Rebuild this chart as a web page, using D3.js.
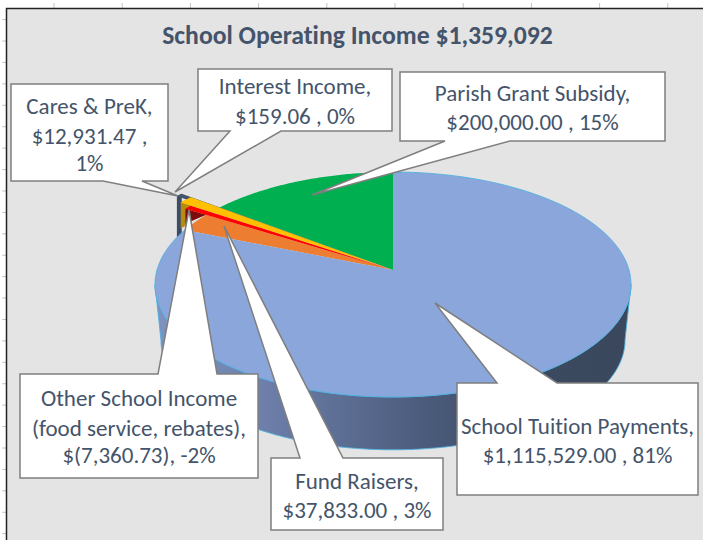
<!DOCTYPE html>
<html><head><meta charset="utf-8">
<script src="https://cdn.jsdelivr.net/npm/d3@7/dist/d3.min.js"></script>
<style>html,body{margin:0;padding:0;background:#fff}svg{display:block}text{font-variant-ligatures:none}</style>
</head><body><svg id="c" width="703" height="540"></svg>
<script>
const chartTitle = "School Operating Income $1,359,092";
const categories = ["School Tuition Payments","Fund Raisers","Other School Income (food service, rebates)","Cares & PreK","Interest Income","Parish Grant Subsidy"];
const values = [1115529.00, 37833.00, -7360.73, 12931.47, 159.06, 200000.00];
const moneyLabels = ["$1,115,529.00","$37,833.00","$(7,360.73)","$12,931.47","$159.06","$200,000.00"];
const percentLabels = ["81%","3%","-2%","1%","0%","15%"];
const sliceColors = ["#8ba6da","#ed7d31","#ff0000","#ffc000","#44546a","#00b050"];

const calloutLines = [
  ["School Tuition Payments,","$1,115,529.00 , 81%"],
  ["Fund Raisers,","$37,833.00 , 3%"],
  ["Other School Income","(food service, rebates),","$(7,360.73), -2%"],
  ["Cares & PreK,","$12,931.47 ,","1%"],
  ["Interest Income,","$159.06 , 0%"],
  ["Parish Grant Subsidy,","$200,000.00 , 15%"]
];
// annotation layout: box [x0,y0,x1,y1], tip, pointer base on bottom or top edge
const calloutBoxes = [
  {b:[457,383,698,495],tip:[435,303],base:[497,557],edge:"top",ys:[426,455]},
  {b:[271,458,443,530],tip:[224,226],base:[300,343],edge:"top",ys:[481,510]},
  {b:[20,374,258,478],tip:[189,210],base:[158,217],edge:"top",ys:[398,428,455]},
  {b:[11,84,168,181],tip:[178,196],base:[103,142],edge:"bottom",ys:[106,136,163]},
  {b:[198,69,392,131],tip:[175,192],base:[230,281],edge:"bottom",ys:[86,116]},
  {b:[400,72,665,141],tip:[312,195],base:[445,510],edge:"bottom",ys:[93,122]}
];

const svg = d3.select("#c");
const ink = "#44546a", font = "Carlito, Lato, 'Open Sans', sans-serif";

// sheet background and ruler ticks
svg.append("rect").attr("x",6).attr("y",8).attr("width",697).attr("height",532).attr("fill","#e4e4e4");
d3.range(54,703,68.2).forEach(x=>svg.append("line").attr("x1",x).attr("x2",x).attr("y1",3).attr("y2",8).attr("stroke","#c4c4c4"));
d3.range(19.6,540,21.42).forEach(y=>svg.append("line").attr("x1",2).attr("x2",6).attr("y1",y).attr("y2",y).attr("stroke","#c4c4c4"));
svg.append("path").attr("d","M6.5 540V8.5H703").attr("fill","none").attr("stroke","#222").attr("stroke-width",1.5);

// pie angles through d3.pie, in source order, clockwise from top
const pie = d3.pie().sort(null).value(d=>Math.abs(d));
const arcs = pie(values);

// perspective view of the tilted disc
const cx = 393, cy = 270, aX = 236, bY = 110.6, persp = 0.129, depth = 56, bottomShrink = 0.975;
function project(theta, r, drop=0){
  const u = r*Math.sin(theta), v = r*Math.cos(theta), w = 1+persp*v;
  return [cx + aX*u/w, cy - bY*v/w + drop];
}
function projectBottom(theta){
  const [x,y] = project(theta,1);
  return [cx+(x-cx)*bottomShrink, cy+(y-cy)*bottomShrink+depth];
}
function arcPoints(a0,a1,r,drop=0){
  const n = Math.max(2,Math.ceil((a1-a0)/0.01));
  return d3.range(n+1).map(i=>project(a0+(a1-a0)*i/n,r,drop));
}
const line = d3.line();
const deg = Math.PI/180;
const grad = svg.append("defs").append("linearGradient").attr("id","wall").attr("gradientUnits","userSpaceOnUse")
  .attr("x1",155).attr("x2",631).attr("y1",0).attr("y2",0);
[[0,"#7f92c0"],[0.22,"#6e80ab"],[0.58,"#4a5a7a"],[0.77,"#3c4b62"],[1,"#3a475c"]]
  .forEach(s=>grad.append("stop").attr("offset",s[0]).attr("stop-color",s[1]));

// blue outer wall: front rim between the two silhouette tangents of the disc
const a0 = 97.4*deg, a1 = 262.6*deg;
const nW = 200;
const frontTop = d3.range(nW+1).map(i=>project(a0+(a1-a0)*i/nW,1));
const frontBottom = d3.range(nW+1).map(i=>projectBottom(a0+(a1-a0)*i/nW)).reverse();
svg.append("path").attr("d",line(frontTop.concat(frontBottom))+"Z")
  .attr("fill","url(#wall)").attr("stroke","#4fb0e0").attr("stroke-width",0.9);

function topFace(a0,a1,r){ return line([[cx,cy]].concat(arcPoints(a0,a1,r)))+"Z"; }
const [aBlue,aOrange,aRed,aGold,aDark,aGreen] = arcs;

// parish slice
svg.append("path").attr("d",topFace(aGreen.startAngle,aGreen.endAngle,1)).attr("fill",sliceColors[5]);

// interest slice is a hairline, drawn with a slight width and a long wall
const darkA0 = aDark.endAngle-1.5*deg, darkA1 = aDark.endAngle, darkR = 1.24;
svg.append("path").attr("d",line(arcPoints(darkA0,darkA1,darkR).concat(arcPoints(darkA0,darkA1,darkR,43).reverse()))+"Z").attr("fill","#3a4c68");
svg.append("path").attr("d",topFace(darkA0,darkA1,darkR)).attr("fill",sliceColors[4]);

// cares slice with wall
const goldR = 1.18;
svg.append("path").attr("d",line(arcPoints(aGold.startAngle,aGold.endAngle,goldR).concat(arcPoints(aGold.startAngle,aGold.endAngle,goldR,26).reverse()))+"Z").attr("fill","#b78a10");
svg.append("path").attr("d",topFace(aGold.startAngle,aGold.endAngle,goldR)).attr("fill",sliceColors[3]);

// fund raisers
svg.append("path").attr("d",topFace(aOrange.startAngle,aOrange.endAngle,1)).attr("fill",sliceColors[1]);

// other income (negative): overreaching, with radial dark wall
const redR = 1.12;
svg.append("path").attr("d",line([project(aRed.startAngle,redR),project(aRed.startAngle,1),project(aRed.startAngle,redR,15)])+"Z").attr("fill","#7d0d0d");
svg.append("path").attr("d",topFace(aRed.startAngle,aRed.endAngle,redR)).attr("fill",sliceColors[2]);

// tuition
svg.append("path").attr("d",line([[cx,cy]].concat(arcPoints(aBlue.startAngle,aBlue.endAngle,1)))+"Z").attr("fill",sliceColors[0]);
svg.append("path").attr("d",line(arcPoints(aBlue.startAngle,aBlue.endAngle,1))).attr("fill","none").attr("stroke","#4fb0e0").attr("stroke-width",0.9);

// title
svg.append("text").attr("x",357.5).attr("y",44).attr("text-anchor","middle")
  .attr("font-family",font).attr("font-weight",700).attr("font-size",25.7).attr("fill",ink).text(chartTitle);

// callouts
calloutBoxes.forEach((c,i)=>{
  const [x0,y0,x1,y1] = c.b, [p,q] = c.base;
  const pts = c.edge==="top"
    ? [[x0,y0],[p,y0],c.tip,[q,y0],[x1,y0],[x1,y1],[x0,y1]]
    : [[x0,y0],[x1,y0],[x1,y1],[q,y1],c.tip,[p,y1],[x0,y1]];
  svg.append("path").attr("d",line(pts)+"Z").attr("fill","#fff").attr("stroke","#7f7f7f").attr("stroke-width",1.5);
  const tx = (x0+x1)/2;
  svg.append("g").selectAll("text").data(calloutLines[i]).join("text")
    .attr("x",tx).attr("y",(d,j)=>c.ys[j]+8).attr("text-anchor","middle")
    .attr("font-family",font).attr("font-size",23).attr("fill",ink).text(d=>d);
});
</script></body></html>
